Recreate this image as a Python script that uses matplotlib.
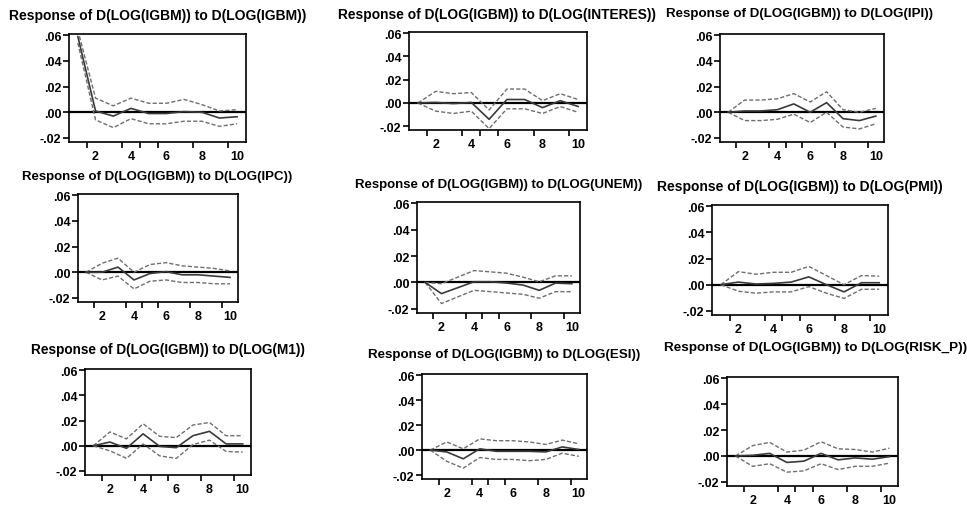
import numpy as np
import matplotlib
matplotlib.use("Agg")
import matplotlib.pyplot as plt
from matplotlib.ticker import FuncFormatter

# periods of the impulse response
periods = np.arange(1, 11)

# shock names, one per panel (row by row)
shocks = ["IGBM", "INTERES", "IPI", "IPC", "UNEM", "PMI", "M1", "ESI", "RISK_P"]

# response of D(LOG(IGBM)) to each shock, with +/- 2 S.E. bands
resp_igbm = [0.059, 0.001, -0.003, 0.003, -0.001, -0.001, 0.0005, 0.0, -0.0045, -0.0035]
up_igbm = [0.064, 0.011, 0.005, 0.011, 0.007, 0.007, 0.010, 0.006, 0.001, 0.002]
lo_igbm = [0.054, -0.006, -0.012, -0.005, -0.009, -0.009, -0.007, -0.007, -0.011, -0.009]

resp_interes = [0.0, 0.0005, -0.0005, 0.0005, -0.014, 0.003, 0.003, -0.004, 0.002, -0.003]
up_interes = [0.0, 0.010, 0.008, 0.009, -0.006, 0.012, 0.012, 0.002, 0.008, 0.003]
lo_interes = [0.0, -0.007, -0.009, -0.007, -0.022, -0.005, -0.005, -0.009, -0.003, -0.008]

resp_ipi = [0.0, 0.001, 0.001, 0.002, 0.0065, 0.0, 0.0075, -0.005, -0.0065, -0.003]
up_ipi = [0.0, 0.0095, 0.0095, 0.0105, 0.0145, 0.008, 0.016, 0.002, 0.0, 0.003]
lo_ipi = [0.0, -0.0065, -0.0065, -0.0055, -0.0015, -0.008, 0.0, -0.0115, -0.013, -0.009]

resp_ipc = [0.0, 0.0, 0.004, -0.006, -0.001, 0.0005, -0.002, -0.002, -0.003, -0.004]
up_ipc = [0.0, 0.007, 0.011, 0.0, 0.006, 0.0075, 0.005, 0.004, 0.003, 0.001]
lo_ipc = [0.0, -0.006, -0.003, -0.013, -0.007, -0.006, -0.008, -0.008, -0.009, -0.009]

resp_unem = [0.0, -0.0085, -0.004, 0.0005, 0.0005, -0.0005, -0.002, -0.006, -0.0005, -0.001]
up_unem = [0.0, -0.001, 0.004, 0.009, 0.008, 0.007, 0.004, 0.0005, 0.005, 0.005]
lo_unem = [0.0, -0.016, -0.011, -0.006, -0.007, -0.008, -0.009, -0.012, -0.007, -0.007]

resp_pmi = [0.0, 0.002, 0.0005, 0.001, 0.002, 0.006, 0.0, -0.0055, 0.0015, 0.0015]
up_pmi = [0.0, 0.010, 0.008, 0.0095, 0.0095, 0.014, 0.007, 0.0, 0.007, 0.0065]
lo_pmi = [0.0, -0.005, -0.0065, -0.0055, -0.0055, -0.0015, -0.0065, -0.0105, -0.0035, -0.0035]

resp_m1 = [0.0, 0.003, -0.002, 0.0095, -0.0005, -0.0015, 0.008, 0.0115, 0.0015, 0.0015]
up_m1 = [0.0, 0.011, 0.0055, 0.0175, 0.0075, 0.0065, 0.0165, 0.0185, 0.008, 0.008]
lo_m1 = [0.0, -0.004, -0.010, 0.0015, -0.008, -0.010, 0.001, 0.0045, -0.0045, -0.005]

resp_esi = [0.0, -0.0015, -0.007, 0.001, -0.001, -0.001, -0.001, -0.0015, 0.0025, 0.0005]
up_esi = [0.0, 0.0065, 0.001, 0.009, 0.0075, 0.0075, 0.0065, 0.0045, 0.008, 0.005]
lo_esi = [0.0, -0.009, -0.0145, -0.006, -0.0075, -0.0075, -0.0085, -0.0075, -0.0025, -0.005]

resp_risk = [0.0, 0.0005, 0.002, -0.005, -0.004, 0.002, -0.003, -0.0015, -0.0025, -0.0005]
up_risk = [0.0, 0.008, 0.0105, 0.003, 0.0045, 0.011, 0.0055, 0.005, 0.003, 0.006]
lo_risk = [0.0, -0.008, -0.006, -0.0125, -0.0115, -0.006, -0.0105, -0.008, -0.008, -0.0055]

responses = [resp_igbm, resp_interes, resp_ipi, resp_ipc, resp_unem, resp_pmi, resp_m1, resp_esi, resp_risk]
uppers = [up_igbm, up_interes, up_ipi, up_ipc, up_unem, up_pmi, up_m1, up_esi, up_risk]
lowers = [lo_igbm, lo_interes, lo_ipi, lo_ipc, lo_unem, lo_pmi, lo_m1, lo_esi, lo_risk]

y_ticks = [-0.02, 0.0, 0.02, 0.04, 0.06]
x_labels = [2, 4, 6, 8, 10]

# panel boxes in pixels: left, top, right, bottom (the panels are not on a neat grid)
W, H = 967, 510
boxes = [(69, 35, 246, 143), (409, 33, 587, 131), (720, 35, 884, 143),
         (78, 195, 238, 303), (417, 203, 580, 314), (712, 206, 888, 316),
         (85, 370, 251, 476), (422, 375, 587, 480), (727, 378, 898, 487)]
# title centres and widths in pixels (the panels were pasted at slightly different scales)
title_pos = [(158, 16), (497, 15), (800, 14),
             (157, 177), (499, 185), (800, 187),
             (168, 350), (504, 355), (816, 348)]
title_w = [296, 315, 259, 260, 276, 286, 268, 265, 293]

plt.rcParams['font.family'] = ['Liberation Sans', 'DejaVu Sans']

fig = plt.figure(figsize=(W / 100, H / 100), dpi=100)
renderer = fig.canvas.get_renderer()


def fmt(v, pos):
    s = "%.2f" % v
    if s.startswith("0"):
        s = s[1:]
    elif s.startswith("-0"):
        s = "-" + s[2:]
    return s


for i in range(9):
    l, t, r, b = boxes[i]
    ax = fig.add_axes([l / W, 1 - b / H, (r - l) / W, (b - t) / H])
    ax.axhline(0, color='black', lw=1.6, zorder=1)
    ax.plot(periods, uppers[i], color='#6e6e6e', lw=1.0, ls=(0, (3, 1.5)), zorder=2)
    ax.plot(periods, lowers[i], color='#6e6e6e', lw=1.0, ls=(0, (3, 1.5)), zorder=2)
    ax.plot(periods, responses[i], color='#3a3a3a', lw=1.2, zorder=3)
    ax.set_xlim(0.5, 10.5)
    ax.set_ylim(-0.0232, 0.061)
    ax.set_yticks(y_ticks)
    ax.yaxis.set_major_formatter(FuncFormatter(fmt))
    # labels sit on the periods, tick marks sit between them
    ax.set_xticks(x_labels)
    ax.set_xticks([1.5, 3.5, 4.5, 5.5, 7.5, 9.5], minor=True)
    ax.tick_params(axis='x', which='major', length=0, pad=6, labelsize=9)
    ax.tick_params(axis='x', which='minor', length=4, width=1.2, direction='out')
    ax.tick_params(axis='y', length=4, width=1.2, direction='out', pad=1.5, labelsize=9)
    for lab in ax.get_xticklabels() + ax.get_yticklabels():
        lab.set_fontweight('bold')
    for sp in ax.spines.values():
        sp.set_linewidth(1.2)
    tx, ty = title_pos[i]
    txt = fig.text(tx / W, 1 - ty / H, "Response of D(LOG(IGBM)) to D(LOG(%s))" % shocks[i],
                   ha='center', va='center', fontsize=10, fontweight='bold')
    # the picture's titles are squeezed sideways; meet the width halfway
    w = txt.get_window_extent(renderer).width
    txt.set_fontsize(min(10.3, 10 * (title_w[i] / w) ** 0.5))

fig.savefig("out.png", dpi=100)
